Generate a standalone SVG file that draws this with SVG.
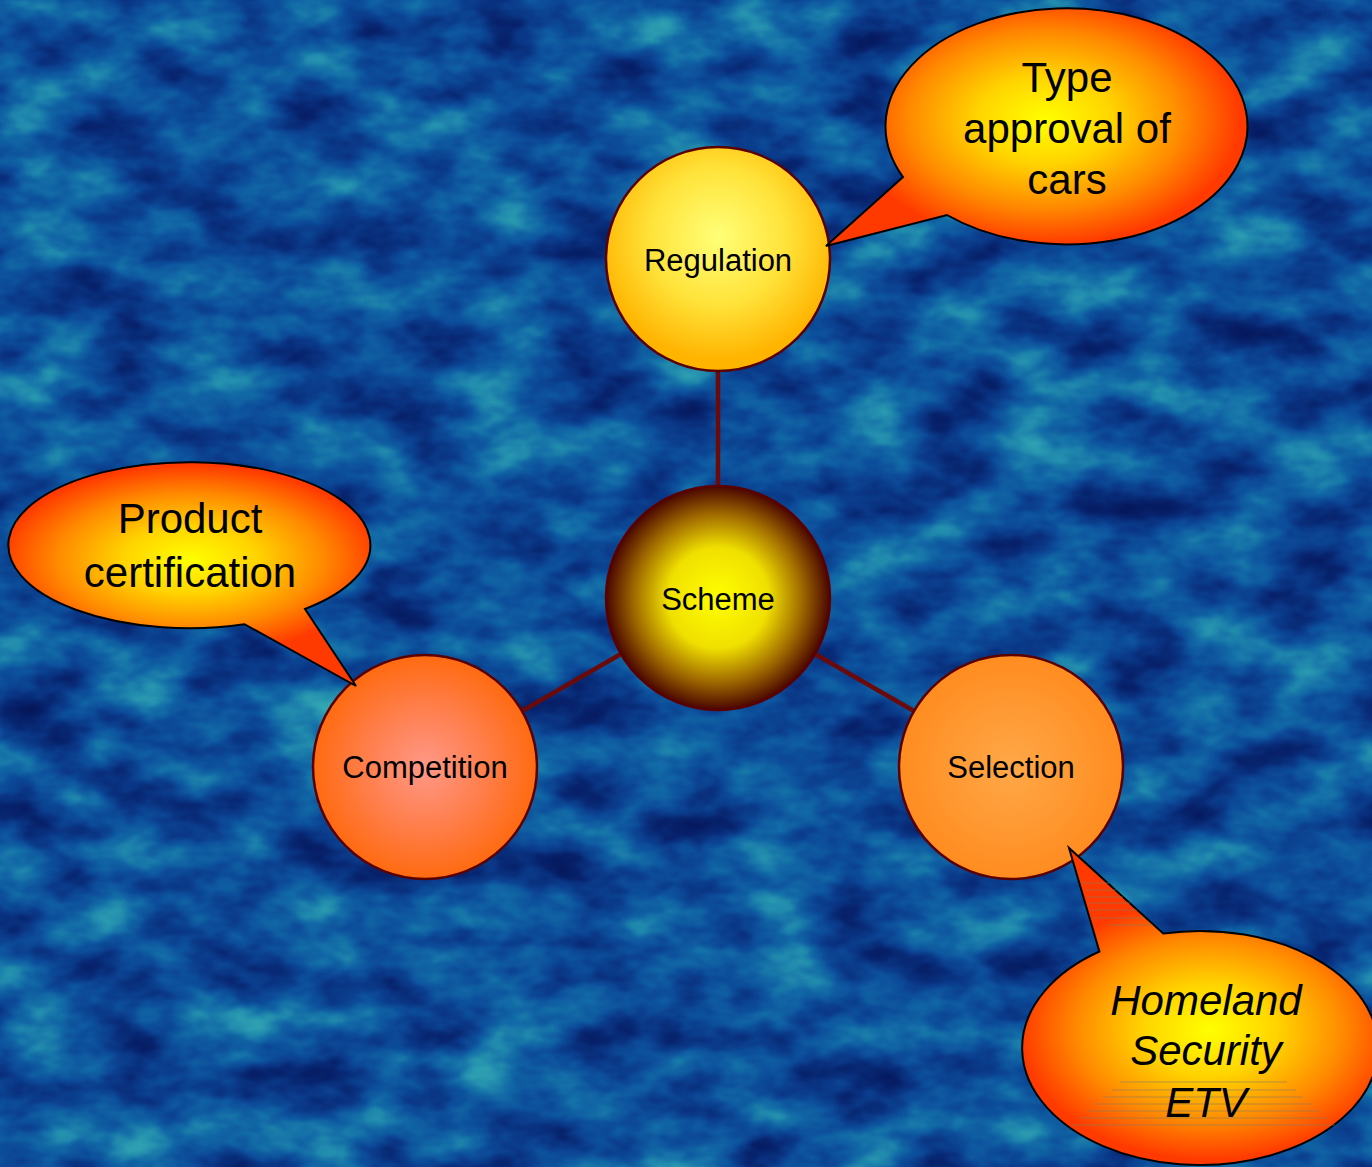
<svg xmlns="http://www.w3.org/2000/svg" width="1372" height="1167" viewBox="0 0 1372 1167">
<style>
.node-label{font-family:"Liberation Sans",Arial,sans-serif;font-size:31px;fill:#000;text-anchor:middle}
.call-label{font-family:"Liberation Sans",Arial,sans-serif;font-size:42px;fill:#000;text-anchor:middle}
.it{font-style:italic}
.node{stroke:#5a0000;stroke-width:2.5}
.callout{stroke:#000;stroke-width:2}
.conn{stroke:#6b0a0a;stroke-width:4.5;fill:none}
.hatch{stroke:#8a7a60;stroke-width:1;opacity:0.6}
</style>
<defs>
<filter id="water" filterUnits="userSpaceOnUse" x="0" y="0" width="1372" height="1167" color-interpolation-filters="sRGB">
<feTurbulence type="fractalNoise" baseFrequency="0.011 0.019" numOctaves="4" seed="7" result="n"/>
<feColorMatrix in="n" type="matrix" values="1 0 0 0 0  1 0 0 0 0  1 0 0 0 0  0 0 0 0 1" result="g"/>
<feComponentTransfer in="g">
<feFuncR type="table" tableValues="0.02 0.02 0.03 0.04 0.05 0.07 0.13 0.19 0.25"/>
<feFuncG type="table" tableValues="0.08 0.10 0.14 0.22 0.31 0.41 0.54 0.64 0.72"/>
<feFuncB type="table" tableValues="0.34 0.37 0.43 0.53 0.61 0.65 0.68 0.70 0.72"/>
</feComponentTransfer>
</filter>
<radialGradient id="gReg" cx="0.5" cy="0.4" r="0.55">
<stop offset="0" stop-color="#ffff78"/><stop offset="0.55" stop-color="#ffe33a"/><stop offset="1" stop-color="#ffb400"/>
</radialGradient>
<radialGradient id="gScheme" cx="0.5" cy="0.5" r="0.5">
<stop offset="0" stop-color="#ffff00"/><stop offset="0.45" stop-color="#f0e000"/><stop offset="0.75" stop-color="#a06a00"/><stop offset="1" stop-color="#4a0500"/>
</radialGradient>
<radialGradient id="gComp" cx="0.5" cy="0.5" r="0.5">
<stop offset="0" stop-color="#ff9888"/><stop offset="0.5" stop-color="#ff8050"/><stop offset="1" stop-color="#ff6a10"/>
</radialGradient>
<radialGradient id="gSel" cx="0.5" cy="0.5" r="0.5">
<stop offset="0" stop-color="#ffa848"/><stop offset="1" stop-color="#ff8c20"/>
</radialGradient>
<radialGradient id="gC1" gradientUnits="userSpaceOnUse" cx="0" cy="0" r="1" gradientTransform="translate(1045 120) scale(195 125)">
<stop offset="0" stop-color="#ffff00"/><stop offset="0.35" stop-color="#ffd400"/><stop offset="0.7" stop-color="#ff8a00"/><stop offset="1" stop-color="#ff3a00"/>
</radialGradient>
<radialGradient id="gC2" gradientUnits="userSpaceOnUse" cx="0" cy="0" r="1" gradientTransform="translate(190 560) scale(190 95)">
<stop offset="0" stop-color="#ffff00"/><stop offset="0.35" stop-color="#ffd400"/><stop offset="0.7" stop-color="#ff8a00"/><stop offset="1" stop-color="#ff3a00"/>
</radialGradient>
<radialGradient id="gC3" gradientUnits="userSpaceOnUse" cx="0" cy="0" r="1" gradientTransform="translate(1210 1030) scale(190 130)">
<stop offset="0" stop-color="#ffff00"/><stop offset="0.35" stop-color="#ffd400"/><stop offset="0.7" stop-color="#ff8a00"/><stop offset="1" stop-color="#ff3a00"/>
</radialGradient>
</defs>

<g id="background">
<rect x="0" y="0" width="1372" height="1167" fill="#0b5aa4"/>
<rect x="0" y="0" width="1372" height="1167" filter="url(#water)"/>
</g>

<g id="connectors">
<line class="conn" x1="718" y1="371" x2="718" y2="598"/>
<line class="conn" x1="718" y1="598" x2="425" y2="767"/>
<line class="conn" x1="718" y1="598" x2="1011" y2="767"/>
</g>

<g id="node-regulation">
<circle class="node" cx="718" cy="259" r="112" fill="url(#gReg)"/>
<text class="node-label" x="718" y="271">Regulation</text>
</g>
<g id="node-scheme">
<circle class="node" cx="718" cy="598" r="112" fill="url(#gScheme)" stroke="#6b0000" stroke-width="3"/>
<text class="node-label" x="718" y="610">Scheme</text>
</g>
<g id="node-competition">
<circle class="node" cx="425" cy="767" r="112" fill="url(#gComp)"/>
<text class="node-label" x="425" y="778">Competition</text>
</g>
<g id="node-selection">
<circle class="node" cx="1011" cy="767" r="112" fill="url(#gSel)"/>
<text class="node-label" x="1011" y="778">Selection</text>
</g>

<g id="callout-type-approval">
<path class="callout" fill="url(#gC1)" d="M 947 215 A 181 118 0 1 0 903 177 L 826 246 Z"/>
<text class="call-label" x="1067" y="92">Type</text>
<text class="call-label" x="1067" y="143">approval of</text>
<text class="call-label" x="1067" y="194">cars</text>
</g>

<g id="callout-product-certification">
<path class="callout" fill="url(#gC2)" d="M 305 609 A 181 83 0 1 0 244.5 624.2 L 356 686 Z"/>
<text class="call-label" x="190" y="533">Product</text>
<text class="call-label" x="190" y="587">certification</text>
</g>

<g id="callout-homeland">
<path class="callout" fill="url(#gC3)" d="M 1163.2 933.5 A 178 117 0 1 1 1099.4 951.5 L 1069 848 Z"/>
<g class="hatch">
<line x1="1082" y1="883" x2="1109" y2="883"/>
<line x1="1085" y1="890" x2="1116" y2="890"/>
<line x1="1087" y1="897" x2="1123" y2="897"/>
<line x1="1089" y1="903" x2="1130" y2="903"/>
<line x1="1091" y1="910" x2="1137" y2="910"/>
<line x1="1093" y1="918" x2="1145" y2="918"/>
<line x1="1109" y1="925" x2="1153" y2="925"/>
<line x1="1120" y1="1082" x2="1287" y2="1082"/>
<line x1="1112" y1="1090" x2="1296" y2="1090"/>
<line x1="1103" y1="1097" x2="1303" y2="1097"/>
<line x1="1095" y1="1104" x2="1312" y2="1104"/>
<line x1="1087" y1="1111" x2="1320" y2="1111"/>
<line x1="1080" y1="1118" x2="1327" y2="1118"/>
<line x1="1072" y1="1125" x2="1335" y2="1125"/>
</g>
<text class="call-label it" x="1206" y="1015">Homeland</text>
<text class="call-label it" x="1206" y="1065">Security</text>
<text class="call-label it" x="1206" y="1117">ETV</text>
</g>
</svg>
